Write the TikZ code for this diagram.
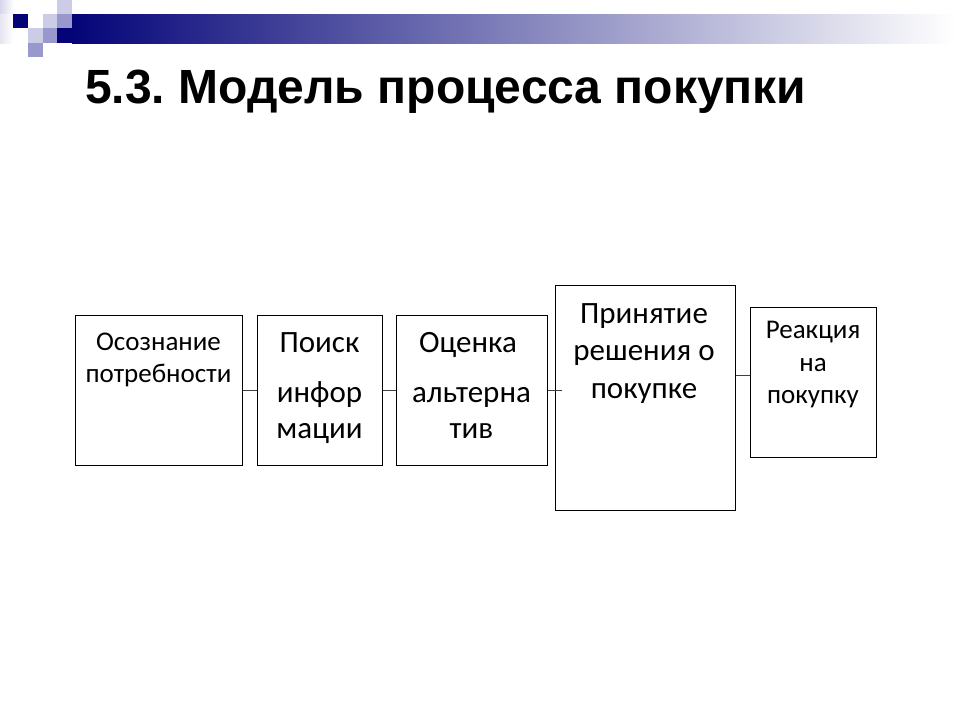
\documentclass[tikz,border=0pt]{standalone}
\usepackage{fontspec}
\setmainfont{Carlito}
\newfontfamily\titlefont{Liberation Sans}
\frenchspacing
\begin{document}
\begin{tikzpicture}[x=1pt,y=-1pt,
  box/.style={draw=black,line width=1.1pt,rectangle,inner sep=0pt,anchor=north west},
  conn/.style={draw=black!75,line width=1pt},
  small/.style={anchor=base,inner sep=0pt,font=\fontsize{27}{32}\selectfont},
  big/.style={anchor=base,inner sep=0pt,font=\fontsize{31}{37}\selectfont},
  sq/.style={draw=none}]
\definecolor{navy}{RGB}{4,4,120}
\definecolor{medsq}{RGB}{152,152,204}
\definecolor{lightsq}{RGB}{204,204,230}
\useasboundingbox (0,0) rectangle (960,720);
\fill[white] (0,0) rectangle (960,720);
% header decoration
\shade[left color=lightsq!80, right color=white] (0,0) rectangle (14,14);
\shade[left color=lightsq!50, right color=white] (0,14) rectangle (13,43);
\fill[navy] (13,14) rectangle (28,28);
\fill[lightsq] (43,14) rectangle (57,28);
\fill[lightsq] (57,0) rectangle (72,14);
\fill[medsq] (57,14) rectangle (72,28);
\fill[lightsq] (28,28) rectangle (43,43);
\fill[medsq] (43,28) rectangle (57,43);
\fill[medsq] (28,43) rectangle (43,57);
\fill[navy] (57,28) rectangle (73,43);
\shade[left color=navy, right color=white] (72,14) rectangle (955,43);
% title
\node[anchor=base west,inner sep=0pt,font=\titlefont\bfseries\fontsize{48}{56}\selectfont] (title) at (85,103) {5.3. Модель процесса покупки};
% boxes
\node[box,minimum width=167pt,minimum height=150pt] (b1) at (75,315) {};
\node[box,minimum width=125pt,minimum height=150pt] (b2) at (257,315) {};
\node[box,minimum width=151pt,minimum height=150pt] (b3) at (396,315) {};
\node[box,minimum width=180pt,minimum height=225pt] (b4) at (555,285) {};
\node[box,minimum width=126pt,minimum height=150pt] (b5) at (750,307) {};
% texts
\node[small] (t11) at (158.5,350) {Осознание};
\node[small] (t12) at (158.5,382) {потребности};
\node[big] (t21) at (319.5,352) {Поиск};
\node[big] (t22) at (319.5,402) {инфор};
\node[big] (t23) at (319.5,438) {мации};
\node[big] (t31) at (468,352) {Оценка};
\node[big] (t32) at (471.5,402) {альтерна};
\node[big] (t33) at (471.5,438) {тив};
\node[big] (t41) at (644,323) {Принятие};
\node[big] (t42) at (644,360) {решения о};
\node[big] (t43) at (644,398) {покупке};
\node[small] (t51) at (813,338) {Реакция};
\node[small] (t52) at (813,371) {на};
\node[small] (t53) at (813,403) {покупку};
% connectors
\draw[conn] (b1.east) -- (b2.west);
\draw[conn] (b2.east) -- (b3.west);
\coordinate (c34) at ([xshift=7pt]b4.west |- b3.east);
\draw[conn] (b3.east) -- (c34);
\draw[conn] (b4.east |- 0,375) -- (b5.west |- 0,375);
\end{tikzpicture}
\end{document}
